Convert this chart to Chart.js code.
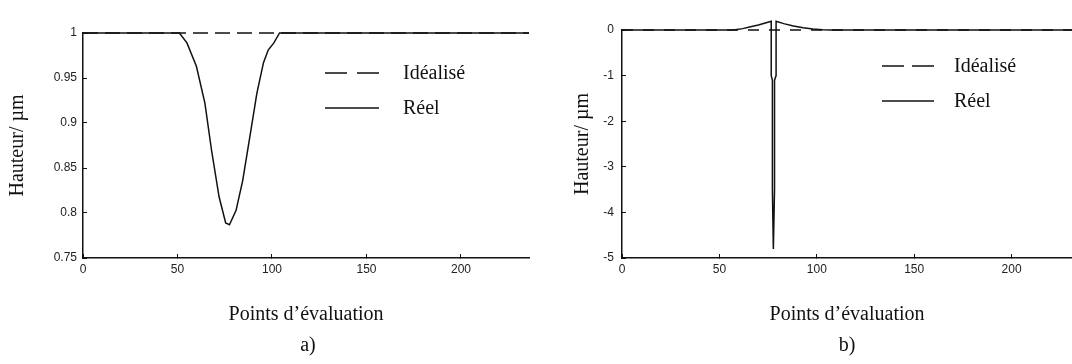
<!DOCTYPE html>
<html lang="fr">
<head>
  <meta charset="UTF-8">
  <title>Profils</title>
  <script src="https://cdn.jsdelivr.net/npm/chart.js"></script>
  <style>
    body { margin: 0; background: #fff; width: 1072px; height: 364px; position: relative; overflow: hidden; }
    canvas { position: absolute; top: 0; }
    #chartA { left: 0; }
    #chartB { left: 540px; }
    .tag { position: absolute; top: 333px; width: 40px; margin-left: -20px; text-align: center;
           font: 20px 'Liberation Serif', 'Times New Roman', serif; color: #111; }
  </style>
</head>
<body>

<canvas id="chartA" width="540" height="364"></canvas>
<canvas id="chartB" width="532" height="364"></canvas>
<div class="tag" style="left:308px">a)</div>
<div class="tag" style="left:847px">b)</div>

<script>
  // a) profil avec creux
  const xA      = [0, 51, 55, 60, 64.5, 68, 72, 75.5, 77.5, 81, 84.5, 88, 92, 95.5, 98, 101, 104, 236];
  const reelA   = [1, 1, 0.989, 0.963, 0.922, 0.870, 0.818, 0.789, 0.787, 0.803, 0.836, 0.881, 0.933, 0.967, 0.981, 0.989, 1, 1];
  const xIdealA = [0, 236];
  const idealA  = [1, 1];
  const yTicksA = [0.75, 0.8, 0.85, 0.9, 0.95, 1];

  // b) profil avec pic
  const xB      = [0, 50, 57, 62, 66, 70, 74, 76.6, 76.6, 77.2, 77.2, 77.7, 78.3, 78.3, 79.1, 79.1, 83, 88, 93, 98, 103, 107, 231];
  const reelB   = [0, 0, 0, 0.03, 0.07, 0.11, 0.16, 0.19, -1.0, -1.1, -3.5, -4.8, -3.5, -1.1, -1.0, 0.19, 0.14, 0.09, 0.05, 0.02, 0.005, 0, 0];
  const xIdealB = [0, 231];
  const idealB  = [0, 0];
  const yTicksB = [-5, -4, -3, -2, -1, 0];

  const xTicks = [0, 50, 100, 150, 200];
  const labels = ['Idéalisé', 'Réel'];

  const ink = '#111';
  const serif = "'Liberation Serif', 'Times New Roman', serif";
  const sans = "'Liberation Sans', Arial, sans-serif";

  const pts = (xs, ys) => xs.map((x, i) => ({ x: x, y: ys[i] }));

  // legend drawn inside the plot, matlab style
  const lineLegend = {
    id: 'lineLegend',
    afterDraw(chart, args, opts) {
      const ctx = chart.ctx;
      ctx.save();
      chart.data.datasets.forEach((ds, i) => {
        const y = opts.ys[i];
        ctx.strokeStyle = ink;
        ctx.lineWidth = 1.5;
        ctx.setLineDash(opts.dashes[i]);
        ctx.beginPath();
        ctx.moveTo(opts.x0, y);
        ctx.lineTo(opts.x1, y);
        ctx.stroke();
        ctx.setLineDash([]);
        ctx.fillStyle = ink;
        ctx.font = '20px ' + serif;
        ctx.textBaseline = 'middle';
        ctx.fillText(ds.label, opts.textX, y + 1);
      });
      ctx.restore();
    }
  };

  const makeChart = (id, cfg) => {
    return new Chart(document.getElementById(id), {
      type: 'line',
      data: {
        datasets: [
          { label: labels[0], data: pts(cfg.xIdeal, cfg.ideal), borderColor: ink, borderWidth: 1.5,
            borderDash: cfg.dash, pointRadius: 0, clip: false },
          { label: labels[1], data: pts(cfg.x, cfg.reel), borderColor: ink, borderWidth: 1.5,
            pointRadius: 0, clip: false }
        ]
      },
      options: {
        responsive: false,
        animation: false,
        layout: { padding: { top: cfg.top, right: cfg.right, left: 0, bottom: 0 } },
        plugins: {
          legend: { display: false },
          tooltip: { enabled: false },
          lineLegend: cfg.legend
        },
        scales: {
          x: {
            type: 'linear',
            min: 0,
            max: cfg.xMax,
            afterBuildTicks: s => { s.ticks = xTicks.map(v => ({ value: v })); },
            afterFit: s => { s.height = 106; },
            // short ticks pointing into the plot
            grid: { drawOnChartArea: false, drawTicks: true, tickLength: -4, color: ink, lineWidth: 1 },
            border: { color: ink, width: 1.5 },
            ticks: { color: '#222', font: { family: sans, size: 12 }, padding: 8, maxRotation: 0 },
            title: { display: true, text: 'Points d’évaluation', color: ink,
                     font: { family: serif, size: 20 }, padding: { top: 0, bottom: 37 } }
          },
          y: {
            min: cfg.yTicks[0],
            max: cfg.yTicks[cfg.yTicks.length - 1],
            afterBuildTicks: s => { s.ticks = cfg.yTicks.map(v => ({ value: v })); },
            afterFit: s => { s.width = cfg.yWidth; },
            grid: { drawOnChartArea: false, drawTicks: true, tickLength: -4, color: ink, lineWidth: 1 },
            border: { color: ink, width: 1.5 },
            ticks: { color: '#222', font: { family: sans, size: 12 }, padding: cfg.tickPad + 4,
                     callback: v => String(+v.toFixed(2)) },
            title: { display: true, text: 'Hauteur/ µm', color: ink,
                     font: { family: serif, size: 20 }, padding: { top: cfg.titlePad, bottom: 0 } }
          }
        }
      },
      plugins: [lineLegend]
    });
  };

  const chartA = makeChart('chartA', {
    x: xA, reel: reelA, xIdeal: xIdealA, ideal: idealA, yTicks: yTicksA,
    dash: [15, 7], xMax: 236, top: 33, right: 11, yWidth: 83, tickPad: 6, titlePad: 6,
    legend: { x0: 325, x1: 379, textX: 403, ys: [73, 108], dashes: [[22, 10], []] }
  });

  const chartB = makeChart('chartB', {
    x: xB, reel: reelB, xIdeal: xIdealB, ideal: idealB, yTicks: yTicksB,
    dash: [11, 10], xMax: 231, top: 30, right: 0, yWidth: 82, tickPad: 8, titlePad: 31,
    legend: { x0: 342, x1: 394, textX: 414, ys: [66, 101], dashes: [[22, 8], []] }
  });
</script>

</body>
</html>
